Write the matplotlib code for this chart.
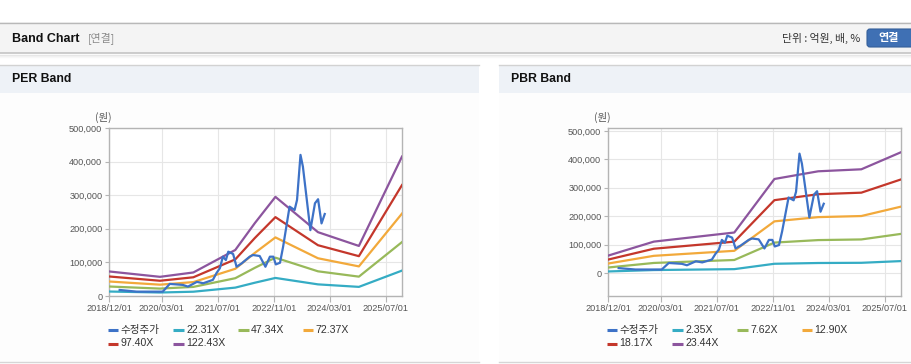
import matplotlib
matplotlib.use("Agg")
import matplotlib.pyplot as plt
import matplotlib.dates as mdates
from matplotlib.patches import Rectangle, FancyBboxPatch
import numpy as np
import datetime as dt

# ---------------- data ----------------
price_dates = ['2019-03-01', '2019-07-25', '2020-03-10', '2020-05-10', '2020-09-01', '2020-10-15',
               '2021-01-01', '2021-02-25', '2021-05-20', '2021-06-20', '2021-07-20', '2021-08-15',
               '2021-09-10', '2021-10-01', '2021-11-12', '2021-12-12', '2022-01-25', '2022-04-05',
               '2022-05-03', '2022-07-01', '2022-08-20', '2022-09-28', '2022-10-28', '2022-11-18',
               '2022-12-25', '2023-01-21', '2023-03-18', '2023-05-01', '2023-05-22', '2023-06-21',
               '2023-07-12', '2023-09-15', '2023-10-25', '2023-11-21', '2023-12-21', '2024-01-18']
price_values = [18000, 13000, 13000, 36000, 33000, 28000,
                42000, 38000, 48000, 68000, 83000, 117000,
                107000, 132000, 125000, 87000, 97000, 117000,
                122000, 119000, 87000, 117000, 117000, 94000,
                99000, 147000, 266000, 256000, 286000, 420000,
                385000, 196000, 276000, 288000, 216000, 244000]

per_dates = ['2018-12-01', '2020-02-15', '2020-12-01', '2021-12-01', '2022-05-20',
             '2022-11-15', '2023-11-20', '2024-11-10', '2025-11-20']
per_eps = [596, 466, 572, 1119, 1772, 2410, 1552, 1217, 3390]
per_multiples = [22.31, 47.34, 72.37, 97.40, 122.43]
per_labels = ['22.31X', '47.34X', '72.37X', '97.40X', '122.43X']

pbr_dates = ['2018-12-01', '2020-01-01', '2021-12-01', '2022-11-15', '2023-12-01',
             '2024-12-10', '2025-11-20']
pbr_bps = [2645, 4735, 6100, 14121, 15273, 15572, 18131]
pbr_multiples = [2.35, 7.62, 12.90, 18.17, 23.44]
pbr_labels = ['2.35X', '7.62X', '12.90X', '18.17X', '23.44X']

x_ticks = ['2018/12/01', '2020/03/01', '2021/07/01', '2022/11/01', '2024/03/01', '2025/07/01']
y_ticks = [0, 100000, 200000, 300000, 400000, 500000]
price_label = '수정주가'

band_colors = ['#35acc4', '#98b95a', '#f2a93b', '#c4372b', '#8c559e']
price_color = '#3d72c7'

# ---------------- figure ----------------
W, H = 912, 364
fig = plt.figure(figsize=(W / 100, H / 100), dpi=100)
fig.patch.set_facecolor('white')
FONT = ['Liberation Sans', 'Noto Sans CJK KR', 'DejaVu Sans']
KFONT = ['Noto Sans CJK KR', 'DejaVu Sans']

bg = fig.add_axes([0, 0, 1, 1])
bg.set_xlim(0, W)
bg.set_ylim(H, 0)
bg.axis('off')

def rect(x, y, w, h, color, **kw):
    bg.add_patch(Rectangle((x, y), w, h, facecolor=color, edgecolor='none', **kw))

# header band
rect(0, 22, W, 31, '#f4f4f4')
bg.plot([0, W], [22.5, 22.5], color='#b8b8b8', lw=1)
bg.plot([0, W], [53, 53], color='#c4c4c4', lw=1.2)
for i, c in enumerate(['#e6e6e6', '#f0f0f0', '#f7f7f7']):
    bg.plot([0, W], [54.5 + i, 54.5 + i], color=c, lw=1)
bg.text(12, 38.5, 'Band Chart', fontsize=9, fontweight='bold', color='#111111',
        family=FONT, va='center', ha='left')
bg.text(88, 38.5, '[연결]', fontsize=7.8, color='#8a8a8a', family=KFONT, va='center', ha='left')
bg.text(860, 38.5, '단위 : 억원, 배, %', fontsize=7.8, color='#333333', family=KFONT,
        va='center', ha='right')
bg.add_patch(FancyBboxPatch((867, 29), 50, 18, boxstyle='round,pad=0,rounding_size=3',
                            facecolor='#3f70b4', edgecolor='#355f9a', lw=0.8))
bg.text(889, 38, '연결', fontsize=8, fontweight='bold', color='white', family=KFONT,
        va='center', ha='center')

# panels
for x0, x1, title in [(0, 479, 'PER Band'), (499, W, 'PBR Band')]:
    rect(x0, 65, x1 - x0, 28, '#eef2f7')
    rect(x0, 93, x1 - x0, 269, '#fdfdfd')
    bg.plot([x0, x1], [64.5, 64.5], color='#d2d2d2', lw=1)
    bg.plot([x0, x1], [362, 362], color='#d6d6d6', lw=1)
    bg.text(x0 + 12, 79.5, title, fontsize=8.8, fontweight='bold', color='#111111',
            family=FONT, va='center', ha='left')


def to_dates(lst):
    return [dt.datetime.strptime(s, '%Y-%m-%d') for s in lst]


def make_chart(left_px, right_px, top_px, bottom_px, ylim, base_dates, base_vals,
               multiples, labels, legend_x0):
    ax = fig.add_axes([left_px / W, 1 - bottom_px / H, (right_px - left_px) / W,
                       (bottom_px - top_px) / H])
    ax.set_facecolor('white')
    bd = to_dates(base_dates)
    for m, col in zip(multiples, band_colors):
        vals = [m * v for v in base_vals]
        ax.plot(bd, vals, color=col, lw=1.6, solid_joinstyle='round', zorder=3)
    ax.plot(to_dates(price_dates), price_values, color=price_color, lw=1.6,
            solid_joinstyle='round', zorder=4)
    ax.set_xlim(dt.datetime(2018, 12, 1), dt.datetime(2025, 11, 20))
    ax.set_ylim(*ylim)
    xt = [dt.datetime.strptime(s, '%Y/%m/%d') for s in x_ticks]
    ax.set_xticks(xt)
    ax.set_xticklabels(x_ticks)
    ax.set_yticks(y_ticks)
    ax.set_yticklabels([f'{v:,}' for v in y_ticks])
    ax.grid(True, color='#e6e6e6', lw=0.8, zorder=0)
    ax.set_axisbelow(True)
    for s in ax.spines.values():
        s.set_color('#b4b4b4')
        s.set_linewidth(1)
    ax.tick_params(axis='x', length=4, color='#b4b4b4', labelsize=6.6, labelcolor='#555555', pad=2)
    ax.tick_params(axis='y', length=3, color='#b4b4b4', labelsize=6.6, labelcolor='#555555', pad=2)
    for lab in ax.get_xticklabels() + ax.get_yticklabels():
        lab.set_family(FONT)
    bg.text(left_px - 6, 117, '(원)', fontsize=7.5, color='#555555', family=KFONT,
            ha='center', va='center')

    # legend
    entries = [(price_label, price_color)] + list(zip(labels, band_colors))
    col_off = [0, 65.5, 130.5, 195]
    for i, (lab, col) in enumerate(entries):
        row = 0 if i < 4 else 1
        c = i if i < 4 else i - 4
        y = 330 if row == 0 else 343.5
        x = legend_x0 + col_off[c]
        bg.plot([x, x + 10.5], [y, y], color=col, lw=2.2, solid_capstyle='butt')
        bg.text(x + 13, y, lab, fontsize=7.6, color='#333333', family=FONT,
                ha='left', va='center')
    return ax


make_chart(109.3, 402, 128, 296, (0, 500000), per_dates, per_eps, per_multiples,
           per_labels, 107.7)
make_chart(608.3, 901, 128.3, 296, (-80000, 509000), pbr_dates, pbr_bps, pbr_multiples,
           pbr_labels, 606.7)

fig.savefig('out.png', dpi=100, facecolor='white')
